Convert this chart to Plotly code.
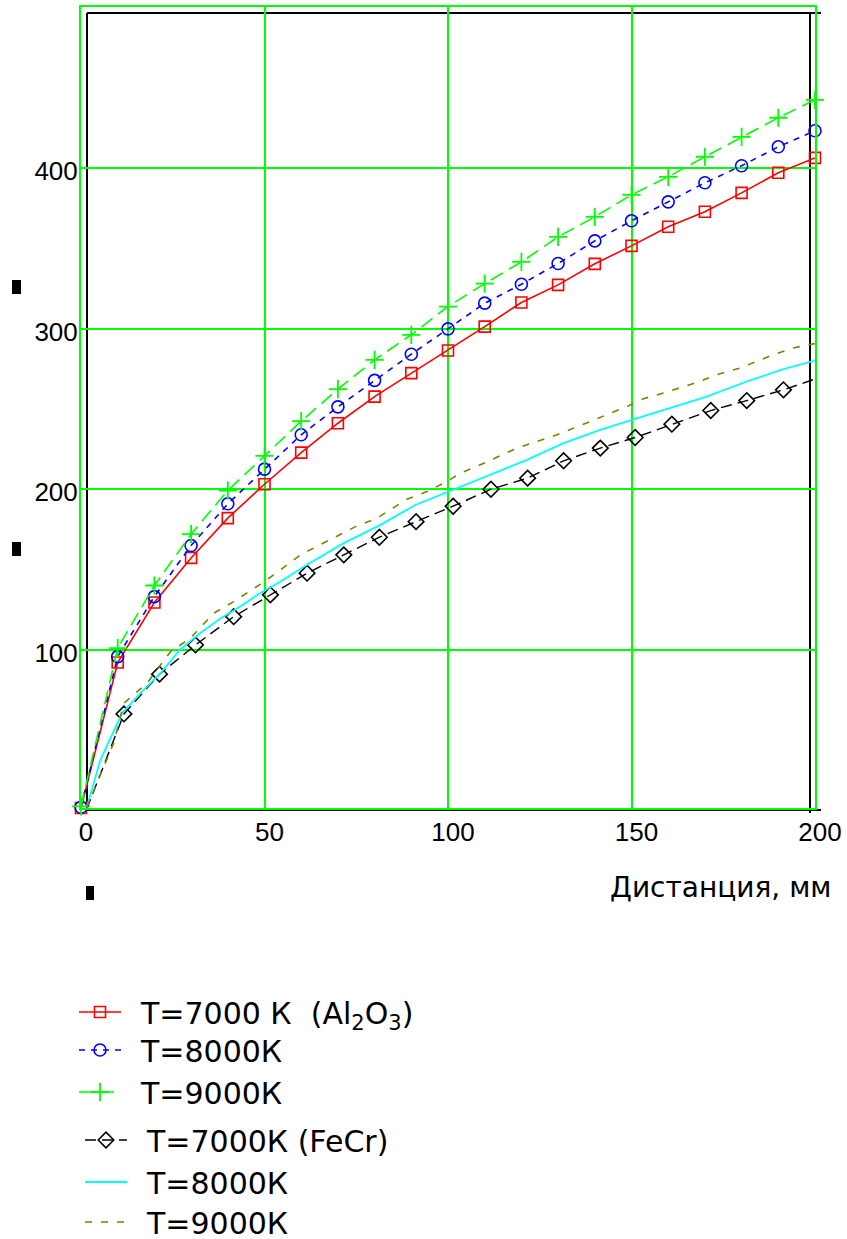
import plotly.graph_objects as go

W, H = 847, 1239
L, R, T, B = 81, 815, 7, 808  # plot-area pixel box (green frame)

# ---------------- data ----------------
dist_al = [0, 10, 20, 30, 40, 50, 60, 70, 80, 90, 100, 110, 120, 130, 140, 150, 160, 170, 180, 190, 200]
al_7000 = [1.5, 92.1, 129.5, 157.3, 182.1, 203.2, 222.9, 241.2, 257.8, 272.4, 286.5, 301.4, 316.4, 327.4,
           340.5, 351.7, 363.6, 372.9, 384.7, 397.2, 406.5]
al_8000 = [2.0, 95.8, 133.2, 165.0, 191.0, 212.6, 234.0, 251.4, 267.9, 284.2, 300.0, 316.0, 327.8, 340.7,
           354.8, 367.3, 379.1, 391.0, 401.6, 413.4, 423.4]
al_9000 = [2.5, 101.1, 140.1, 172.1, 199.3, 220.9, 242.5, 262.4, 280.7, 296.3, 313.9, 328.2, 341.7, 357.3,
           369.8, 383.5, 394.7, 407.2, 419.6, 431.5, 442.7]

dist_fecr_7000 = [1.5, 11.7, 21.4, 31.2, 41.6, 51.6, 61.6, 71.6, 81.3, 91.3, 101.4, 111.7, 121.7, 131.5,
                  141.5, 151.0, 161.0, 171.6, 181.4, 191.4, 201.2]
fecr_7000 = [0.5, 60.1, 84.9, 103.1, 120.7, 134.3, 147.8, 159.2, 170.2, 179.9, 189.5, 200.1, 207.0, 217.8,
             225.7, 232.3, 240.6, 249.1, 255.3, 262.0, 269.7]

dist_fecr_8000 = [1.5, 5.3, 11.2, 16.2, 21.7, 27.1, 32.5, 38.0, 43.4, 48.9, 54.3, 61.6, 71.6, 81.6, 91.1,
                  100.6, 111.5, 121.5, 131.5, 141.5, 150.1, 161.4, 170.5, 181.4, 191.4, 201.4]
fecr_8000 = [1.5, 31.5, 60.6, 73.0, 85.5, 100.4, 110.5, 119.5, 127.0, 135.5, 142.5, 153.0, 166.5, 177.9,
             190.3, 199.0, 209.0, 218.4, 228.8, 237.1, 243.3, 251.2, 257.8, 267.2, 274.9, 281.1]

dist_fecr_9000 = [1.5, 8.9, 11.7, 18.0, 24.4, 29.8, 36.2, 41.6, 48.9, 52.5, 59.8, 69.8, 74.8, 80.7, 88.8,
                  94.3, 99.7, 103.4, 108.8, 118.8, 123.3, 129.7, 138.8, 148.7, 153.3, 158.7, 168.7, 173.3,
                  179.6, 188.7, 194.1, 199.1, 201.5]
fecr_9000 = [1.5, 41.9, 66.8, 79.3, 98.9, 107.3, 122.9, 130.1, 141.0, 146.7, 159.2, 170.6, 176.8, 182.1,
             193.9, 198.6, 204.9, 210.1, 215.3, 225.7, 229.2, 234.0, 242.3, 251.6, 256.5, 260.0, 267.3,
             271.5, 275.6, 283.9, 288.1, 290.5, 291.0]

x_ticks = [0, 50, 100, 150, 200]
y_ticks = [100, 200, 300, 400]

GAP = "\u2002"  # space between legend symbol and text
names = [GAP + "T=7000\u00a0К\u00a0\u00a0(Al<sub>2</sub>O<sub>3</sub>)", GAP + "T=8000К", GAP + "T=9000К",
         GAP + "T=7000К\u00a0(FeCr)", GAP + "T=8000К", GAP + "T=9000К"]

TICK_FONT = "Liberation Sans, Arial, sans-serif"
TEXT_FONT = "DejaVu Sans, Verdana, sans-serif"

fig = go.Figure()

fig.add_trace(go.Scatter(x=dist_al, y=al_7000, name=names[0], mode="lines+markers",
                         line=dict(color="#ff0000", width=1.6),
                         marker=dict(symbol="square-open", size=11, color="#ff0000", line=dict(width=1.6)),
                         cliponaxis=False, legend="legend"))
fig.add_trace(go.Scatter(x=dist_al, y=al_8000, name=names[1], mode="lines+markers",
                         line=dict(color="#0000ff", width=1.6, dash="6px,6px"),
                         marker=dict(symbol="circle-open", size=12, color="#0000ff", line=dict(width=1.6)),
                         cliponaxis=False, legend="legend2"))
fig.add_trace(go.Scatter(x=dist_al, y=al_9000, name=names[2], mode="lines+markers",
                         line=dict(color="#00ff00", width=1.6, dash="14px,7px"),
                         marker=dict(symbol="cross-thin-open", size=13, color="#00ff00", line=dict(width=1.8)),
                         cliponaxis=False, legend="legend3"))
fig.add_trace(go.Scatter(x=dist_fecr_7000, y=fecr_7000, name=names[3], mode="lines+markers",
                         line=dict(color="#000000", width=1.4, dash="11px,6px"),
                         marker=dict(symbol="diamond-open", size=12, color="#000000", line=dict(width=1.6)),
                         cliponaxis=False, legend="legend4"))
fig.add_trace(go.Scatter(x=dist_fecr_8000, y=fecr_8000, name=names[4], mode="lines",
                         line=dict(color="#00ffff", width=1.8),
                         legend="legend5"))
fig.add_trace(go.Scatter(x=dist_fecr_9000, y=fecr_9000, name=names[5], mode="lines",
                         line=dict(color="#808000", width=1.6, dash="7px,9px"),
                         legend="legend6"))


def px_x(px):
    return (px - L) / (R - L)


def px_y(py):
    return (B - py) / (B - T)


shapes = []
# black axis frame (slightly offset from the green frame, as in the original)
for (x0, y0, x1, y1) in [(87, 13, 821, 13), (87, 810, 821, 810), (87, 13, 87, 810), (810, 13, 810, 813)]:
    shapes.append(dict(type="line", xref="paper", yref="paper", x0=px_x(x0), y0=px_y(y0),
                       x1=px_x(x1), y1=px_y(y1), line=dict(color="black", width=2), layer="between"))
# small placeholder marks
for (x0, y0, x1, y1) in [(12, 280, 21, 294), (12, 542, 21, 556), (86, 886, 94, 900)]:
    shapes.append(dict(type="rect", xref="paper", yref="paper", x0=px_x(x0), y0=px_y(y0),
                       x1=px_x(x1), y1=px_y(y1), fillcolor="black", line=dict(width=0), layer="above"))


def legend_box(px, py, itemwidth=42):
    return dict(xref="container", yref="container", x=px / W, y=1 - py / H,
                xanchor="left", yanchor="middle", bgcolor="rgba(0,0,0,0)",
                font=dict(family=TEXT_FONT, size=30, color="black"),
                itemwidth=itemwidth, tracegroupgap=0, borderwidth=0)


fig.update_layout(
    width=W, height=H,
    margin=dict(l=L, r=W - R, t=T, b=H - B, pad=0, autoexpand=False),
    paper_bgcolor="white", plot_bgcolor="white",
    font=dict(family=TICK_FONT, color="black", size=26),
    showlegend=True,
    shapes=shapes,
    legend=legend_box(74, 1012),
    legend2=legend_box(74, 1050),
    legend3=legend_box(74, 1092),
    legend4=legend_box(80, 1140),
    legend5=legend_box(80, 1182),
    legend6=legend_box(80, 1222),
    annotations=[dict(text="Дистанция, мм", xref="paper", yref="paper",
                      x=px_x(833), y=px_y(887), xanchor="right", yanchor="middle",
                      showarrow=False, font=dict(family=TEXT_FONT, size=28, color="black"))],
)

fig.update_xaxes(range=[0, 200], tickvals=x_ticks, ticktext=[str(v) for v in x_ticks],
                 showgrid=True, gridcolor="#00ff00", gridwidth=1.6,
                 showline=True, linecolor="#00ff00", linewidth=2, mirror=True,
                 zeroline=False, ticks="", ticklabelshift=5, ticklabelstandoff=0,
                 tickfont=dict(family=TICK_FONT, size=26, color="black"))
fig.update_yaxes(range=[1.5, 500.5], tickvals=y_ticks, ticktext=[str(v) for v in y_ticks],
                 showgrid=True, gridcolor="#00ff00", gridwidth=1.6,
                 showline=True, linecolor="#00ff00", linewidth=2, mirror=True,
                 zeroline=False, ticks="", ticklabelshift=3, ticklabelstandoff=-4,
                 tickfont=dict(family=TICK_FONT, size=26, color="black"))

fig.write_html("out.html", config={"displayModeBar": False},
               post_script="document.body.style.margin='0';document.body.style.overflow='hidden';")
